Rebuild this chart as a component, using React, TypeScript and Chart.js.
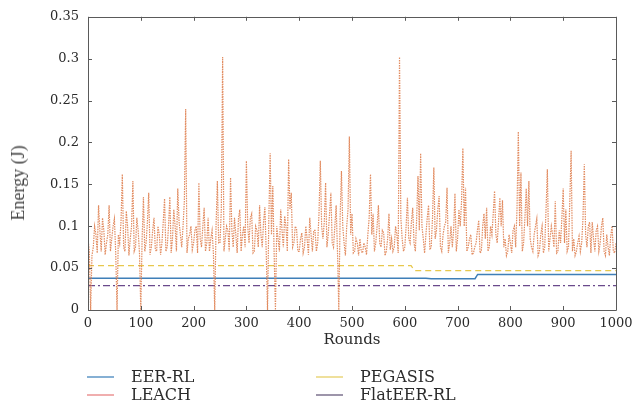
import React, { useEffect, useRef } from "react";
import { Chart, registerables } from "chart.js";

Chart.register(...registerables);

// LEACH energy sampled at rounds 0, 5, 10, ... 1000
const leachStep = 5;
const leachValues = [
  0.085, 0, 0.075, 0.09, 0.125, 0.07, 0.095, 0.08, 0.125, 0.085,
  0.109, 0, 0.08, 0.162, 0.07, 0.1, 0.085, 0.154, 0.075, 0.095,
  0, 0.135, 0.08, 0.14, 0.075, 0.11, 0.07, 0.09, 0.08, 0.133,
  0.075, 0.135, 0.085, 0.1, 0.145, 0.09, 0.1, 0.24, 0.085, 0.1,
  0.08, 0.1, 0.152, 0.075, 0.122, 0.08, 0.07, 0.095, 0, 0.154,
  0.08, 0.302, 0.085, 0.095, 0.158, 0.075, 0.09, 0.109, 0.07, 0.1,
  0.178, 0.08, 0.115, 0.07, 0.095, 0.125, 0.075, 0.123, 0, 0.187,
  0.148, 0, 0.085, 0.12, 0.075, 0.1, 0.18, 0.14, 0.08, 0.097,
  0.07, 0.092, 0.075, 0.085, 0.11, 0.07, 0.095, 0.08, 0.178, 0.085,
  0.152, 0.09, 0.14, 0.075, 0.125, 0, 0.166, 0.08, 0.1, 0.207,
  0.115, 0.07, 0.08, 0.085, 0.068, 0.075, 0.09, 0.162, 0.115, 0.08,
  0.125, 0.075, 0.092, 0.07, 0.115, 0.085, 0.075, 0.09, 0.302, 0.085,
  0.075, 0.134, 0.08, 0.122, 0.07, 0.16, 0.187, 0.085, 0.09, 0.125,
  0.075, 0.17, 0.095, 0.136, 0.07, 0.1, 0.146, 0.08, 0.075, 0.139,
  0.085, 0.1, 0.193, 0.146, 0.075, 0.09, 0.068, 0.08, 0.107, 0.07,
  0.115, 0.122, 0.075, 0.09, 0.142, 0.08, 0.134, 0.131, 0.085, 0.07,
  0.08, 0.095, 0.075, 0.213, 0.164, 0.08, 0.145, 0.154, 0.075, 0.09,
  0.109, 0.07, 0.1, 0.075, 0.168, 0.085, 0.09, 0.13, 0.07, 0.08,
  0.145, 0.12, 0.075, 0.19, 0.085, 0.07, 0.088, 0.08, 0.174, 0.075,
  0.105, 0.105, 0.07, 0.1, 0.08, 0.11, 0.065, 0.075, 0.088, 0.07, 0.08,
];

// LEACH energy at the in-between rounds 2.5, 7.5, ... 997.5
const leachMidValues = [
  0.07, 0.065, 0.1, 0.068, 0.095, 0.11, 0.066, 0.09, 0.07, 0.1,
  0.068, 0.09, 0.105, 0.075, 0.118, 0.065, 0.1, 0.07, 0.11, 0.068,
  0.085, 0.07, 0.105, 0.066, 0.095, 0.072, 0.1, 0.066, 0.105, 0.07,
  0.1, 0.068, 0.12, 0.07, 0.105, 0.075, 0.13, 0.068, 0.09, 0.072,
  0.095, 0.068, 0.085, 0.1, 0.07, 0.11, 0.085, 0.068, 0.1, 0.08,
  0.12, 0.07, 0.1, 0.07, 0.095, 0.11, 0.068, 0.12, 0.09, 0.075,
  0.1, 0.11, 0.068, 0.1, 0.075, 0.09, 0.105, 0.07, 0.11, 0.09,
  0.068, 0.1, 0.07, 0.095, 0.112, 0.07, 0.12, 0.075, 0.1, 0.07,
  0.085, 0.068, 0.1, 0.066, 0.09, 0.095, 0.07, 0.115, 0.1, 0.105,
  0.075, 0.115, 0.08, 0.1, 0.07, 0.11, 0.1, 0.065, 0.12, 0.09,
  0.068, 0.085, 0.065, 0.07, 0.08, 0.066, 0.11, 0.09, 0.07, 0.1,
  0.08, 0.095, 0.065, 0.085, 0.072, 0.07, 0.1, 0.068, 0.11, 0.07,
  0.1, 0.085, 0.105, 0.08, 0.11, 0.095, 0.1, 0.068, 0.11, 0.072,
  0.11, 0.085, 0.12, 0.075, 0.09, 0.105, 0.068, 0.1, 0.095, 0.07,
  0.12, 0.13, 0.1, 0.07, 0.085, 0.066, 0.075, 0.095, 0.068, 0.1,
  0.085, 0.07, 0.1, 0.115, 0.09, 0.105, 0.1, 0.075, 0.065, 0.09,
  0.068, 0.1, 0.12, 0.1, 0.07, 0.11, 0.1, 0.085, 0.07, 0.1,
  0.065, 0.09, 0.068, 0.12, 0.07, 0.1, 0.075, 0.068, 0.095, 0.11,
  0.08, 0.07, 0.13, 0.07, 0.065, 0.08, 0.07, 0.11, 0.09, 0.1,
  0.068, 0.085, 0.095, 0.07, 0.1, 0.07, 0.09, 0.065, 0.1, 0.068,
];

const eerRounds = [0, 640, 650, 733, 738, 1000];
const eerValues = [0.038, 0.038, 0.0373, 0.0373, 0.0425, 0.0425];

const pegasisRounds = [0, 612, 618, 1000];
const pegasisValues = [0.053, 0.053, 0.047, 0.047];

const flatRounds = [0, 1000];
const flatValues = [0.029, 0.029];

const xTickStep = 100;
const yTickStep = 0.05;
const xMax = 1000;
const yMax = 0.35;

const legendItems = [
  { label: "EER-RL", color: "#86b0d4", col: 0, row: 0 },
  { label: "LEACH", color: "#f0aeae", col: 0, row: 1 },
  { label: "PEGASIS", color: "#efe09c", col: 1, row: 0 },
  { label: "FlatEER-RL", color: "#9d95aa", col: 1, row: 1 },
];

const toPoints = (xs: number[], ys: number[]) => xs.map((x, i) => ({ x, y: ys[i] }));

const boxPlugin = {
  id: "boxTicks",
  afterDatasetsDraw(chart: any) {
    const { ctx, chartArea } = chart;
    const { left, right, top, bottom } = chartArea;
    const xs = chart.scales.x;
    const ys = chart.scales.y;
    ctx.save();
    ctx.strokeStyle = "#5a5a5a";
    ctx.lineWidth = 1;
    ctx.beginPath();
    ctx.rect(Math.round(left) + 0.5, Math.round(top) + 0.5, Math.round(right - left), Math.round(bottom - top));
    const len = 4;
    xs.ticks.forEach((t: any) => {
      const px = Math.round(xs.getPixelForValue(t.value)) + 0.5;
      ctx.moveTo(px, bottom);
      ctx.lineTo(px, bottom - len);
      ctx.moveTo(px, top);
      ctx.lineTo(px, top + len);
    });
    ys.ticks.forEach((t: any) => {
      const py = Math.round(ys.getPixelForValue(t.value)) + 0.5;
      ctx.moveTo(left, py);
      ctx.lineTo(left + len, py);
      ctx.moveTo(right, py);
      ctx.lineTo(right - len, py);
    });
    ctx.stroke();
    ctx.restore();
  },
};

export default function App() {
  const canvasRef = useRef<HTMLCanvasElement | null>(null);

  useEffect(() => {
    if (!canvasRef.current) return;
    const leachPoints: { x: number; y: number }[] = [];
    leachValues.forEach((v, i) => {
      leachPoints.push({ x: i * leachStep, y: v });
      if (i < leachMidValues.length) {
        leachPoints.push({ x: i * leachStep + leachStep / 2, y: leachMidValues[i] });
      }
    });
    const chart = new Chart(canvasRef.current, {
      type: "line",
      data: {
        datasets: [
          {
            label: "LEACH",
            data: leachPoints,
            borderColor: "rgba(220,115,62,0.82)",
            borderWidth: 1.2,
            borderDash: [1.5, 1],
            pointRadius: 0,
            tension: 0,
          },
          {
            label: "EER-RL",
            data: toPoints(eerRounds, eerValues),
            borderColor: "#3f7fb8",
            borderWidth: 1.5,
            pointRadius: 0,
            tension: 0,
          },
          {
            label: "PEGASIS",
            data: toPoints(pegasisRounds, pegasisValues),
            borderColor: "#e7c84c",
            borderWidth: 1.3,
            borderDash: [6, 4],
            pointRadius: 0,
            tension: 0,
          },
          {
            label: "FlatEER-RL",
            data: toPoints(flatRounds, flatValues),
            borderColor: "#6a4a8c",
            borderWidth: 1.3,
            borderDash: [7, 3, 2, 3],
            pointRadius: 0,
            tension: 0,
          },
        ],
      },
      options: {
        animation: false,
        responsive: true,
        maintainAspectRatio: false,
        layout: { padding: { left: 0, right: 23, top: 15, bottom: 50 } },
        plugins: { legend: { display: false }, tooltip: { enabled: false } },
        scales: {
          x: {
            type: "linear",
            min: 0,
            max: xMax,
            afterFit: (s: any) => {
              s.height = 42;
            },
            border: { display: false },
            grid: { display: false, drawTicks: false },
            ticks: {
              stepSize: xTickStep,
              padding: 6,
              maxRotation: 0,
              color: "#2b2b2b",
              font: { family: "'DejaVu Serif'", size: 13 },
              callback: (v: any) => String(v),
            },
            title: {
              display: true,
              text: "Rounds",
              color: "#2b2b2b",
              font: { family: "'DejaVu Serif'", size: 15 },
              padding: { top: 0, bottom: 3 },
            },
          },
          y: {
            min: 0,
            max: yMax,
            afterFit: (s: any) => {
              s.width = 88;
            },
            border: { display: false },
            grid: { display: false, drawTicks: false },
            ticks: {
              stepSize: yTickStep,
              padding: 9,
              color: "#2b2b2b",
              font: { family: "'DejaVu Serif'", size: 13 },
              callback: (v: any) => String(+Number(v).toFixed(2)),
            },
          },
        },
      },
      plugins: [boxPlugin],
    });
    return () => chart.destroy();
  }, []);

  return (
    <div style={{ position: "absolute", left: 0, top: 0, width: 639, height: 402, background: "#fff", overflow: "hidden" }}>
      <div style={{ position: "absolute", left: 0, top: 0, width: 639, height: 402 }}>
        <canvas ref={canvasRef} />
      </div>
      <div
        style={{
          position: "absolute",
          left: 18,
          top: 183,
          transform: "translate(-50%, -50%) rotate(-90deg)",
          whiteSpace: "nowrap",
          fontFamily: "'Liberation Serif'",
          fontWeight: 400,
          fontSize: 18,
          color: "#444",
          lineHeight: "18px",
        }}
      >
        Energy (J)
      </div>
      {legendItems.map((it) => (
        <div
          key={it.label}
          style={{
            position: "absolute",
            left: it.col === 0 ? 87 : 316,
            top: it.row === 0 ? 368 : 386,
            height: 18,
            display: "flex",
            alignItems: "center",
            whiteSpace: "nowrap",
          }}
        >
          <div style={{ width: 27, height: 2, background: it.color }} />
          <span
            style={{
              marginLeft: 17,
              fontFamily: "'DejaVu Serif'",
              fontSize: 16,
              color: "#2b2b2b",
              lineHeight: "18px",
            }}
          >
            {it.label}
          </span>
        </div>
      ))}
    </div>
  );
}
